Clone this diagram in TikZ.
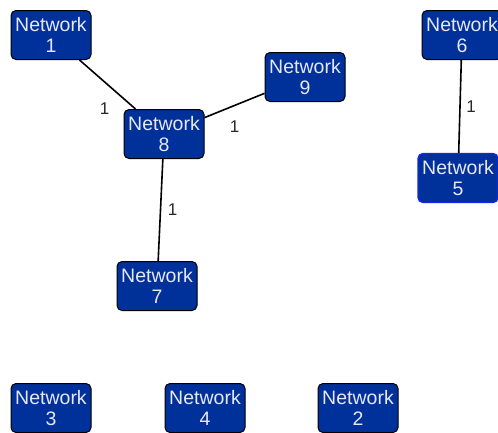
\documentclass[tikz,border=0pt]{standalone}
\usepackage{fontspec}
\setmainfont{Liberation Sans}
\definecolor{netfill}{RGB}{0,48,153}
\definecolor{nettext}{RGB}{232,232,250}
\definecolor{selblue}{RGB}{20,40,230}
\definecolor{lbl}{RGB}{40,40,40}
\begin{document}
\begin{tikzpicture}[x=1pt,y=-1pt,
  net/.style={draw=black, line width=1pt, fill=netfill, text=nettext, rounded corners=5pt,
    minimum width=80pt, minimum height=49pt, inner sep=0pt, align=center,
    font=\fontsize{19.5}{21}\selectfont},
  sel/.style={draw=selblue, line width=1.4pt},
  link/.style={draw=black, line width=1.6pt},
  lab/.style={text=lbl, font=\fontsize{17}{19}\selectfont, inner sep=0pt}]
\useasboundingbox (0,0) rectangle (498,432);
\clip (0,0) rectangle (498,432);
\node[net] (n1) at (51,35) {Network\\1};
\node[net] (n8) at (164,134) {Network\\8};
\node[net] (n9) at (305,77) {Network\\9};
\node[net] (n6) at (462,35) {Network\\6};
\node[net,sel] (n5) at (458,178) {Network\\5};
\node[net] (n7) at (157,286) {Network\\7};
\node[net] (n3) at (51,408) {Network\\3};
\node[net] (n4) at (205,408) {Network\\4};
\node[net] (n2) at (358,408) {Network\\2};
\draw[link] (n1) -- (n8) node[lab, at end, xshift=-31pt, yshift=0pt] {1};
\draw[link] (n8) -- (n9) node[lab, midway, yshift=-21pt] {1};
\draw[link] (n8) -- (n7) node[lab, midway, xshift=12pt] {1};
\draw[link] (n6) -- (n5) node[lab, midway, xshift=11pt] {1};
\end{tikzpicture}
\end{document}
